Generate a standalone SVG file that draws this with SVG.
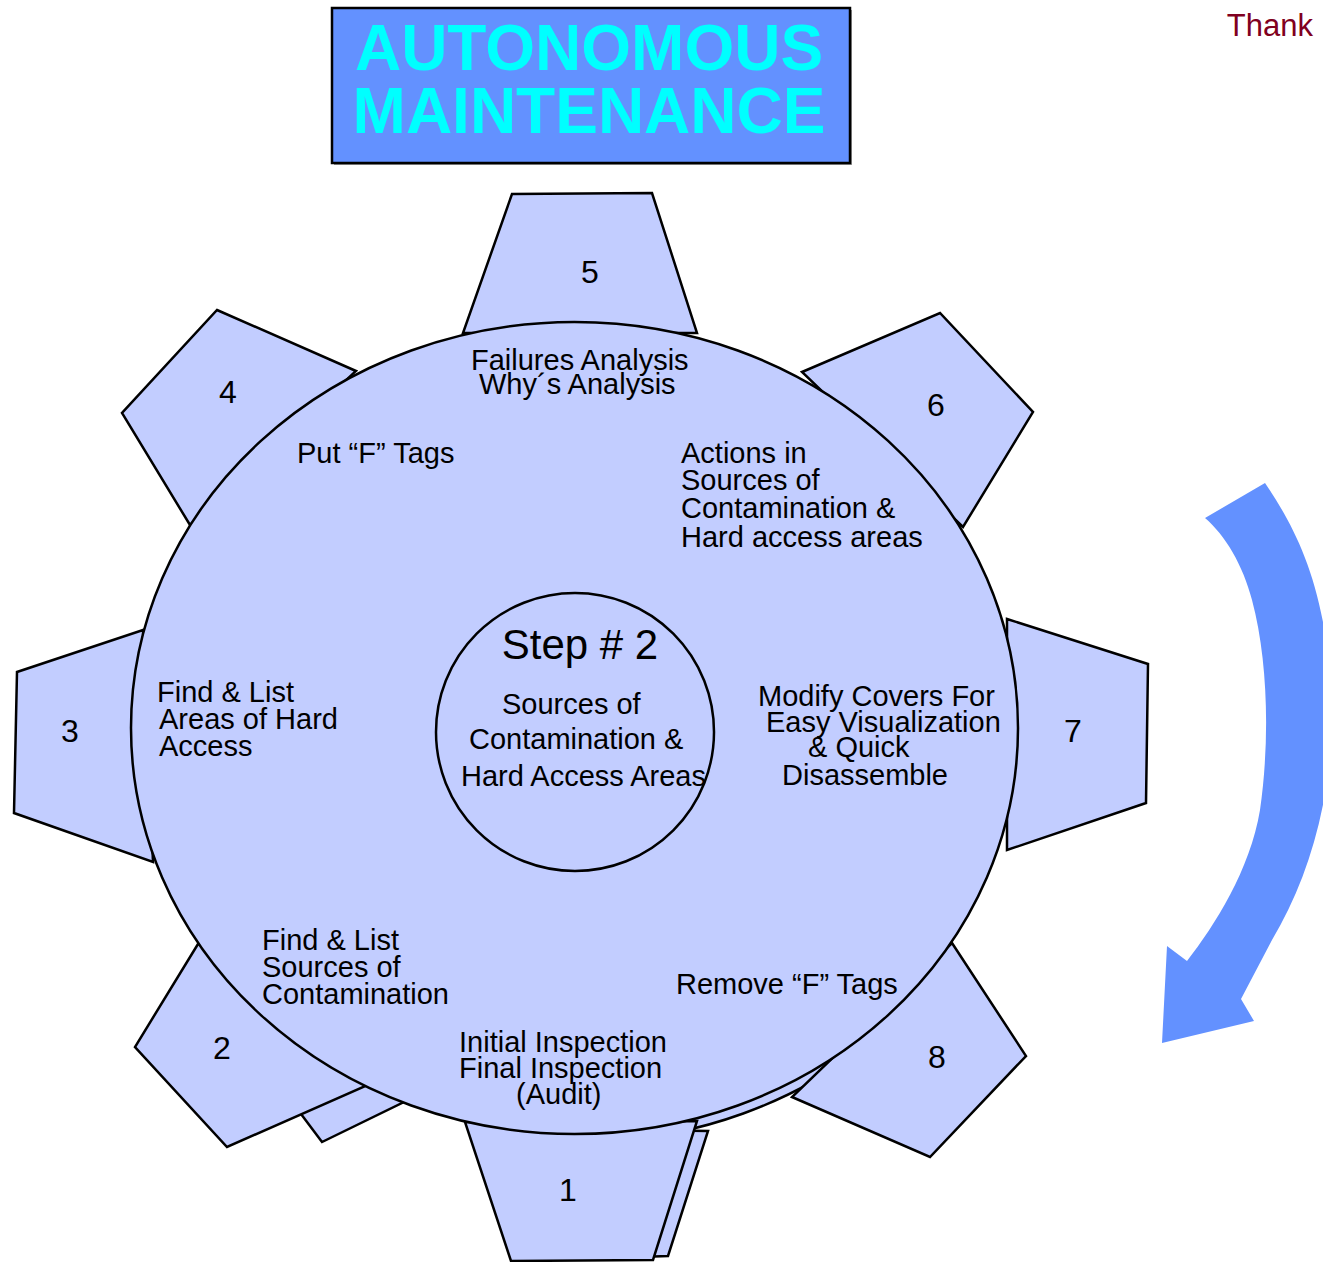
<svg xmlns="http://www.w3.org/2000/svg" width="1323" height="1262" viewBox="0 0 1323 1262">
<style>
.g{fill:#C2CDFF;stroke:#000;stroke-width:2.5;stroke-linejoin:miter}
.t{font-family:"Liberation Sans",Arial,sans-serif;font-size:29px;fill:#000}
.n{font-family:"Liberation Sans",Arial,sans-serif;font-size:32px;fill:#000;text-anchor:middle}
.h{font-family:"Liberation Sans",Arial,sans-serif;font-size:64px;font-weight:bold;fill:#00FFFF;text-anchor:middle}
</style>
<defs>
<clipPath id="shclip"><rect x="600" y="1000" width="260" height="200"/></clipPath>
</defs>
<rect width="1323" height="1262" fill="#fff"/>
<g id="title">
<rect x="334" y="10" width="518" height="155" fill="#999"/>
<rect x="332" y="8" width="518" height="155" fill="#6391FF" stroke="#000" stroke-width="2.5"/>
<text class="h" x="589" y="70">AUTONOMOUS</text>
<text class="h" x="589" y="133">MAINTENANCE</text>
</g>
<g id="thank"><text x="1313" y="36" font-family="Liberation Sans,Arial,sans-serif" font-size="31" fill="#800020" text-anchor="end">Thank</text></g>
<g id="arrow">
<path d="M1205,518 L1265,483 C1290,520 1315,565 1326,640 L1330,760 C1322,830 1302,890 1272,940 L1241,999 L1254,1021 L1162,1043 L1167,946 L1187,961 C1215,925 1250,870 1260,810 C1270,740 1268,660 1252,600 C1243,565 1225,535 1205,518 Z" fill="#6391FF"/>
</g>
<g id="gear-shadow">
<polygon class="g" points="292,1102 322,1142 408,1100 380,1060"/>
<polygon class="g" points="640,1130 708,1131 668,1256 640,1257"/>
<ellipse class="g" cx="580" cy="736" rx="443.5" ry="406" clip-path="url(#shclip)"/>
</g>
<g id="gear-teeth">
<g id="tooth5"><polygon class="g" points="512,194 652,193 697,333 463,333"/><text class="n" x="590" y="283">5</text></g>
<g id="tooth4"><polygon class="g" points="217,310 356,371 190,525 122,413"/><text class="n" x="228" y="403">4</text></g>
<g id="tooth3"><polygon class="g" points="143,630 153,862 14,813 17,672"/><text class="n" x="70" y="742">3</text></g>
<g id="tooth2"><polygon class="g" points="198,944 420,1062 227,1147 135,1047"/><text class="n" x="222" y="1059">2</text></g>
<g id="tooth1"><polygon class="g" points="465,1122 697,1121 653,1260 511,1261"/><text class="n" x="568" y="1201">1</text></g>
<g id="tooth8"><polygon class="g" points="952,943 1026,1056 930,1157 792,1097"/><text class="n" x="937" y="1068">8</text></g>
<g id="tooth7"><polygon class="g" points="1007,619 1148,664 1146,803 1007,850"/><text class="n" x="1073" y="742">7</text></g>
<g id="tooth6"><polygon class="g" points="802,372 940,313 1033,412 963,527"/><text class="n" x="936" y="416">6</text></g>
</g>
<g id="gear-body">
<ellipse class="g" cx="574.5" cy="728" rx="443.5" ry="406"/>
</g>
<g id="labels">
<text class="t" x="471" y="370">Failures Analysis</text>
<text class="t" x="479" y="394">Why´s Analysis</text>
<text class="t" x="297" y="463">Put “F” Tags</text>
<text class="t" x="681" y="463">Actions in</text>
<text class="t" x="681" y="490">Sources of</text>
<text class="t" x="681" y="518">Contamination &amp;</text>
<text class="t" x="681" y="547">Hard access areas</text>
<text class="t" x="157" y="702">Find &amp; List</text>
<text class="t" x="159" y="729">Areas of Hard</text>
<text class="t" x="159" y="756">Access</text>
<text class="t" x="758" y="706">Modify Covers For</text>
<text class="t" x="766" y="732">Easy Visualization</text>
<text class="t" x="808" y="757">&amp; Quick</text>
<text class="t" x="782" y="785">Disassemble</text>
<text class="t" x="262" y="950">Find &amp; List</text>
<text class="t" x="262" y="977">Sources of</text>
<text class="t" x="262" y="1004">Contamination</text>
<text class="t" x="676" y="994">Remove “F” Tags</text>
<text class="t" x="459" y="1052">Initial Inspection</text>
<text class="t" x="459" y="1078">Final Inspection</text>
<text class="t" x="516" y="1104">(Audit)</text>
</g>
<g id="center">
<circle class="g" cx="575" cy="732" r="139"/>
<text x="580" y="659" font-family="Liberation Sans,Arial,sans-serif" font-size="42" text-anchor="middle">Step # 2</text>
<text class="t" x="502" y="714">Sources of</text>
<text class="t" x="469" y="749">Contamination &amp;</text>
<text class="t" x="461" y="786">Hard Access Areas</text>
</g>
</svg>
